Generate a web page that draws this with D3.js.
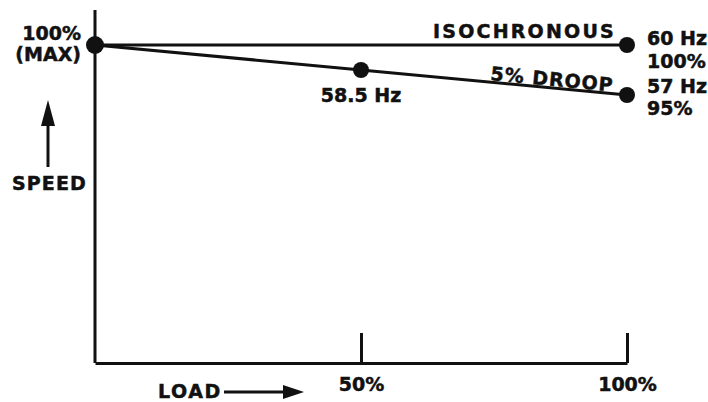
<!DOCTYPE html>
<html>
<head>
<meta charset="utf-8">
<script src="https://cdn.jsdelivr.net/npm/d3@7"></script>
<style>
  body { margin: 0; background: #fff; }
  svg text { font-family: "DejaVu Sans", sans-serif; font-weight: bold; fill: #111; stroke: #111; stroke-width: 0.5px; }
</style>
</head>
<body>
<svg width="708" height="402"></svg>
<script>
// load in percent of rated, speed in percent of max
var isoLoad = [0, 100];
var isoSpeed = [100, 100];
var droopLoad = [0, 50, 100];
var droopSpeed = [100, 97.5, 95];
var loadTicks = [50, 100];
var loadTickLabels = ["50%", "100%"];
var endLabels = ["60 Hz", "100%", "57 Hz", "95%"];
var midLabel = "58.5 Hz";

var svg = d3.select("svg");
var ink = "#111";
var fs = 19;

var x0 = 95, x1 = 627;
var yTop = 10, yBottom = 363;

var xScale = d3.scaleLinear().domain([0, 100]).range([x0, x1]);
var yScale = d3.scaleLinear().domain([95, 100]).range([95, 45]);

// y axis (plain line)
svg.append("line")
  .attr("x1", x0).attr("x2", x0)
  .attr("y1", yTop).attr("y2", yBottom)
  .attr("stroke", ink).attr("stroke-width", 3);

// x axis, ticks pointing up
var xAxis = d3.axisBottom(xScale)
  .tickValues(loadTicks)
  .tickFormat(function(d, i) { return loadTickLabels[i]; })
  .tickSizeInner(-30)
  .tickSizeOuter(0)
  .tickPadding(15);

var gx = svg.append("g")
  .attr("transform", "translate(0," + yBottom + ")")
  .call(xAxis);
gx.select(".domain").attr("stroke", ink).attr("stroke-width", 3);
gx.selectAll(".tick line").attr("stroke", ink).attr("stroke-width", 3);
gx.selectAll(".tick text")
  .attr("font-size", fs)
  .attr("font-family", "DejaVu Sans")
  .attr("font-weight", "bold")
  .attr("fill", ink);

var line = d3.line()
  .x(function(d) { return xScale(d[0]); })
  .y(function(d) { return yScale(d[1]); });

var iso = isoLoad.map(function(l, i) { return [l, isoSpeed[i]]; });
var droop = droopLoad.map(function(l, i) { return [l, droopSpeed[i]]; });

svg.append("path").datum(iso)
  .attr("d", line).attr("fill", "none")
  .attr("stroke", ink).attr("stroke-width", 3);
svg.append("path").datum(droop)
  .attr("d", line).attr("fill", "none")
  .attr("stroke", ink).attr("stroke-width", 3);

svg.selectAll(".dot")
  .data(droop.concat([iso[1]]))
  .enter().append("circle")
  .attr("class", "dot")
  .attr("cx", function(d) { return xScale(d[0]); })
  .attr("cy", function(d) { return yScale(d[1]); })
  .attr("r", function(d) { return d[0] == 0 ? 9 : 8; })
  .attr("fill", ink);

// line labels
svg.append("text").text("ISOCHRONOUS")
  .attr("x", 433).attr("y", 38)
  .attr("font-size", fs).attr("letter-spacing", 2.2);

var slope = Math.atan2(yScale(droopSpeed[2]) - yScale(droopSpeed[1]),
                       xScale(100) - xScale(50)) * 180 / Math.PI;
svg.append("text").text("5% DROOP")
  .attr("font-size", fs).attr("letter-spacing", 1)
  .attr("transform", "translate(490,80) rotate(" + slope + ")");

svg.append("text").text(midLabel)
  .attr("x", xScale(50)).attr("y", 102)
  .attr("text-anchor", "middle")
  .attr("font-size", fs);

var endY = [45, 68, 93, 115];
svg.selectAll(".endlab")
  .data(endLabels)
  .enter().append("text")
  .attr("class", "endlab")
  .attr("x", 647)
  .attr("y", function(d, i) { return endY[i]; })
  .attr("font-size", fs)
  .text(function(d) { return d; });

// speed axis label
svg.append("text").text("100%")
  .attr("x", 81).attr("y", 40).attr("text-anchor", "end")
  .attr("font-size", fs);
svg.append("text").text("(MAX)")
  .attr("x", 81).attr("y", 61).attr("text-anchor", "end")
  .attr("font-size", fs);

svg.append("line")
  .attr("x1", 48).attr("x2", 48).attr("y1", 167).attr("y2", 118)
  .attr("stroke", ink).attr("stroke-width", 3);
svg.append("path")
  .attr("d", "M41,126 L48,100 L55,126 Z")
  .attr("fill", ink);
svg.append("text").text("SPEED")
  .attr("x", 12).attr("y", 190)
  .attr("font-size", fs).attr("letter-spacing", 1.1);

// load axis label
svg.append("text").text("LOAD")
  .attr("x", 158).attr("y", 398)
  .attr("font-size", fs).attr("letter-spacing", 1.6);
svg.append("line")
  .attr("x1", 224).attr("x2", 290).attr("y1", 392).attr("y2", 392)
  .attr("stroke", ink).attr("stroke-width", 3);
svg.append("path")
  .attr("d", "M283,385 L304,392 L283,399 Z")
  .attr("fill", ink);
</script>
</body>
</html>
